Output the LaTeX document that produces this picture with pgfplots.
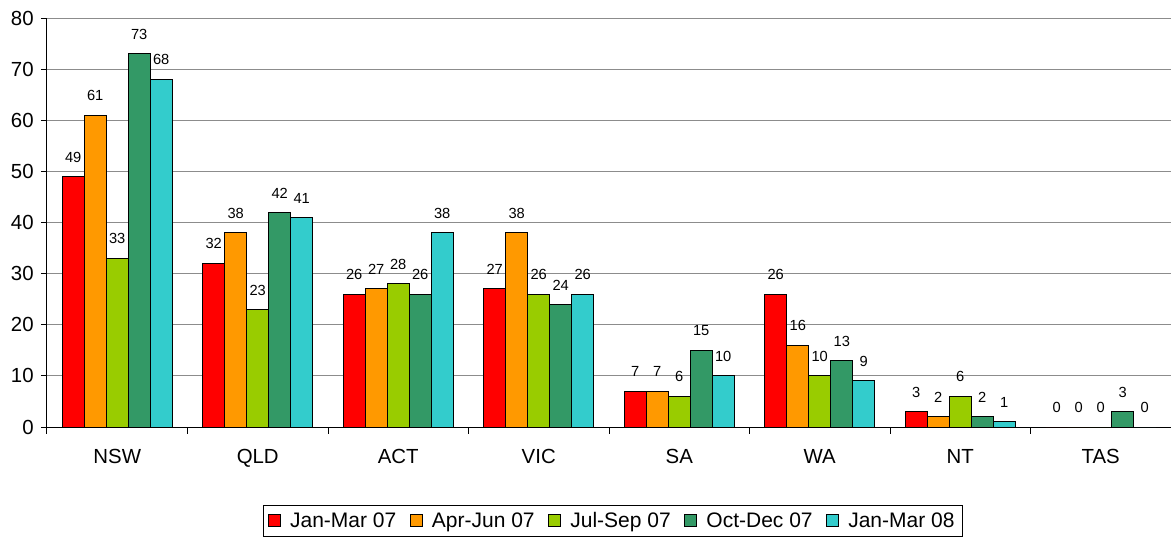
\documentclass[border=0pt]{standalone}
\usepackage{fontspec}
\setmainfont{Liberation Sans}
\usepackage{pgfplots}
\pgfplotsset{compat=1.18}
\definecolor{cRed}{HTML}{FF0000}
\definecolor{cOrange}{HTML}{FF9900}
\definecolor{cLime}{HTML}{99CC00}
\definecolor{cGreen}{HTML}{339966}
\definecolor{cCyan}{HTML}{33CCCC}
\begin{document}
\begin{tikzpicture}
\begin{axis}[
  at={(0,0)}, anchor=south west,
  scale only axis, width=843pt, height=306.75pt,
  xmin=-0.5, xmax=7.5, ymin=0, ymax=80,
  ybar=0pt, bar width=16.5pt,
  axis x line*=bottom, axis y line*=left,
  axis line style={-, black, line width=0.75pt},
  xtick={0,...,7},
  xticklabels={NSW,QLD,ACT,VIC,SA,WA,NT,TAS},
  minor xtick={-0.5,0.5,...,7.5},
  major x tick style={draw=none},
  minor x tick style={black, line width=0.75pt},
  minor tick length=5pt,
  ytick={0,10,...,80},
  major tick length=4.5pt,
  tick align=outside,
  y tick style={black, line width=0.75pt},
  ymajorgrids, grid style={draw=gray!90, line width=0.75pt},
  /pgf/number format/assume math mode=true,
  tick label style={font=\fontsize{15.3}{18}\selectfont},
  xticklabel style={yshift=-9pt},
  yticklabel style={xshift=-2pt},
  nodes near coords,
  every node near coord/.append style={font=\fontsize{11}{13}\selectfont, yshift=7pt, black},
  legend style={at={(0.5031,-0.2298)}, anchor=center, legend columns=5,
    draw=black, line width=0.5pt, font=\fontsize{15.75}{18}\selectfont,
    nodes={inner xsep=2pt},
    /tikz/every even column/.append style={column sep=8pt},
    /tikz/every odd column/.append style={column sep=5pt},
    inner xsep=3.5pt, inner ysep=3pt},
  legend image code/.code={\draw[#1, line width=0.75pt] (0pt,-4.5pt) rectangle (9pt,4.5pt);},
  clip=false,
]
\addplot[fill=cRed, draw=black, line width=0.75pt] coordinates {(0,49)(1,32)(2,26)(3,27)(4,7)(5,26)(6,3)(7,0)};
\addplot[fill=cOrange, draw=black, line width=0.75pt] coordinates {(0,61)(1,38)(2,27)(3,38)(4,7)(5,16)(6,2)(7,0)};
\addplot[fill=cLime, draw=black, line width=0.75pt] coordinates {(0,33)(1,23)(2,28)(3,26)(4,6)(5,10)(6,6)(7,0)};
\addplot[fill=cGreen, draw=black, line width=0.75pt] coordinates {(0,73)(1,42)(2,26)(3,24)(4,15)(5,13)(6,2)(7,3)};
\addplot[fill=cCyan, draw=black, line width=0.75pt] coordinates {(0,68)(1,41)(2,38)(3,26)(4,10)(5,9)(6,1)(7,0)};
\legend{Jan-Mar 07, Apr-Jun 07, Jul-Sep 07, Oct-Dec 07, Jan-Mar 08}
\end{axis}
\pgfresetboundingbox
\path[use as bounding box] (-35.25pt,-84.75pt) rectangle (843pt,320.25pt);
\end{tikzpicture}
\end{document}
